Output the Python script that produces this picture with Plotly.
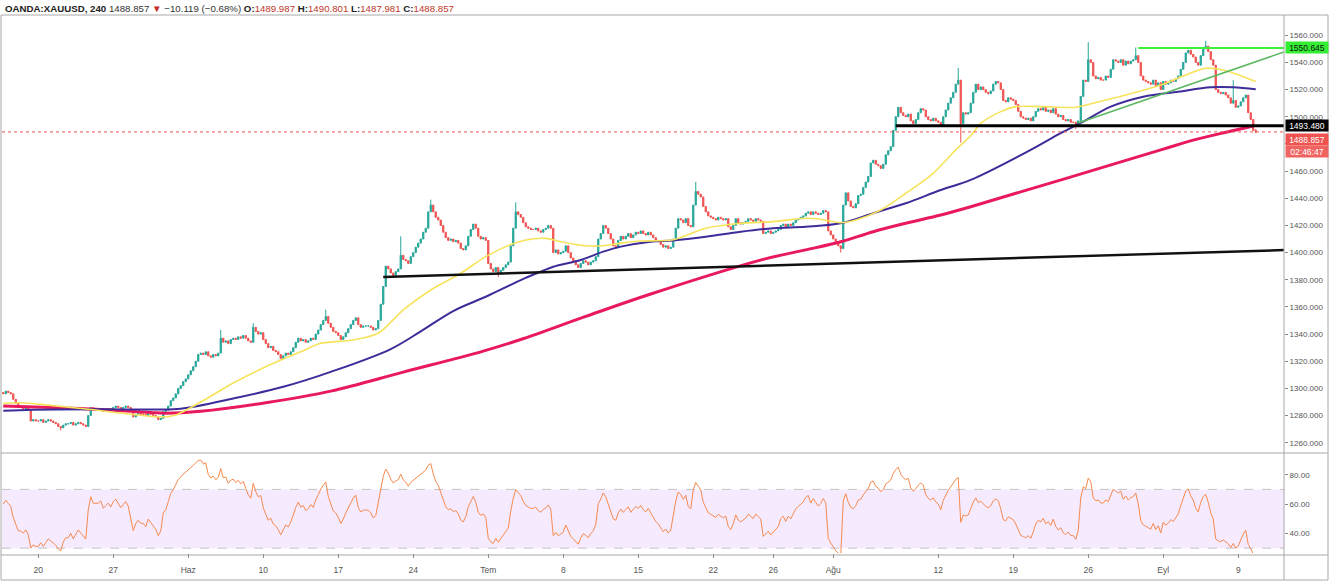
import numpy as np
import plotly.graph_objects as go
from plotly.subplots import make_subplots

# ---------------- DATA ----------------
# 4H closes, grouped per trading day (6 bars/day); first group = last 2 bars of May 15,
# last group = first 2 bars of Sep 10
daily_closes = [
    [1296, 1298],
    [1297, 1296, 1292, 1289, 1286, 1286],  # May 16
    [1285, 1286, 1284, 1276, 1277, 1276],  # May 17
    [1276, 1277, 1275, 1276, 1277, 1276],  # May 20
    [1275, 1274, 1272, 1271, 1273, 1274],
    [1274, 1275, 1273, 1274, 1275, 1274],
    [1273, 1272, 1280, 1286, 1284, 1284],
    [1284, 1285, 1283, 1284, 1285, 1284],
    [1286, 1287, 1286, 1285, 1286, 1287],  # May 27
    [1286, 1283, 1279, 1281, 1282, 1281],
    [1281, 1280, 1282, 1281, 1280, 1279],
    [1277, 1278, 1283, 1284, 1287, 1291],
    [1293, 1296, 1300, 1302, 1305, 1307],
    [1310, 1313, 1316, 1320, 1325, 1326],  # Jun 3
    [1325, 1327, 1324, 1323, 1325, 1324],
    [1326, 1337, 1334, 1335, 1333, 1336],
    [1337, 1336, 1338, 1337, 1339, 1337],
    [1335, 1334, 1345, 1342, 1340, 1341],
    [1336, 1333, 1330, 1331, 1328, 1327],  # Jun 10
    [1325, 1322, 1324, 1326, 1325, 1327],
    [1330, 1334, 1337, 1335, 1336, 1334],
    [1335, 1337, 1336, 1340, 1343, 1347],
    [1350, 1353, 1348, 1345, 1342, 1341],
    [1339, 1336, 1338, 1341, 1344, 1347],  # Jun 17
    [1350, 1352, 1347, 1345, 1346, 1346],
    [1346, 1345, 1343, 1344, 1350, 1362],
    [1375, 1390, 1388, 1385, 1383, 1386],
    [1388, 1398, 1395, 1394, 1392, 1397],
    [1400, 1404, 1407, 1410, 1415, 1418],  # Jun 24
    [1430, 1435, 1430, 1426, 1424, 1420],
    [1415, 1411, 1409, 1410, 1408, 1409],
    [1407, 1403, 1402, 1405, 1412, 1417],
    [1421, 1418, 1412, 1410, 1411, 1409],
    [1392, 1388, 1386, 1389, 1385, 1387],  # Jul 1
    [1389, 1391, 1393, 1405, 1418, 1430],
    [1428, 1426, 1422, 1419, 1418, 1417],
    [1417, 1418, 1416, 1415, 1417, 1418],
    [1420, 1418, 1400, 1402, 1399, 1400],
    [1401, 1405, 1400, 1396, 1394, 1391],  # Jul 8
    [1389, 1392, 1394, 1393, 1391, 1393],
    [1394, 1397, 1410, 1414, 1420, 1418],
    [1414, 1410, 1405, 1404, 1409, 1412],
    [1410, 1412, 1414, 1411, 1413, 1415],
    [1414, 1416, 1414, 1413, 1415, 1413],  # Jul 15
    [1411, 1409, 1408, 1406, 1404, 1405],
    [1403, 1404, 1410, 1418, 1425, 1424],
    [1422, 1425, 1420, 1419, 1435, 1445],
    [1443, 1441, 1434, 1430, 1427, 1426],
    [1425, 1424, 1426, 1425, 1424, 1425],  # Jul 22
    [1419, 1417, 1420, 1425, 1422, 1421],
    [1422, 1423, 1425, 1424, 1423, 1425],
    [1424, 1423, 1414, 1415, 1416, 1414],
    [1415, 1416, 1417, 1420, 1421, 1419],
    [1421, 1420, 1422, 1424, 1425, 1426],  # Jul 29
    [1427, 1429, 1430, 1428, 1430, 1429],
    [1428, 1429, 1431, 1430, 1416, 1413],
    [1410, 1407, 1405, 1403, 1435, 1444],
    [1438, 1434, 1433, 1436, 1442, 1443],
    [1448, 1452, 1456, 1466, 1468, 1465],  # Aug 5
    [1464, 1462, 1465, 1472, 1475, 1478],
    [1490, 1500, 1507, 1503, 1501, 1500],
    [1502, 1497, 1495, 1498, 1503, 1506],
    [1505, 1500, 1498, 1497, 1499, 1497],
    [1496, 1493, 1500, 1505, 1510, 1514],  # Aug 12
    [1518, 1524, 1527, 1495, 1503, 1502],
    [1503, 1510, 1518, 1524, 1520, 1522],
    [1520, 1518, 1517, 1519, 1524, 1526],
    [1525, 1520, 1512, 1511, 1514, 1513],
    [1512, 1509, 1504, 1500, 1499, 1498],  # Aug 19
    [1499, 1497, 1500, 1504, 1506, 1505],
    [1507, 1504, 1505, 1503, 1506, 1502],
    [1500, 1501, 1498, 1497, 1498, 1496],
    [1496, 1494, 1497, 1515, 1527, 1526],
    [1542, 1540, 1530, 1528, 1529, 1527],  # Aug 26
    [1527, 1530, 1529, 1535, 1542, 1541],
    [1540, 1542, 1538, 1541, 1539, 1541],
    [1542, 1545, 1540, 1530, 1527, 1526],
    [1525, 1524, 1527, 1523, 1525, 1520],
    [1526, 1524, 1525, 1527, 1526, 1528],  # Sep 2
    [1530, 1535, 1540, 1547, 1549, 1546],
    [1544, 1540, 1538, 1545, 1550, 1552],
    [1548, 1542, 1538, 1520, 1518, 1517],
    [1518, 1516, 1514, 1510, 1512, 1507],
    [1508, 1511, 1514, 1516, 1503, 1498],  # Sep 9
    [1489.987, 1488.857],                  # Sep 10
]
first_open = 1297.0
last_bar_high = 1490.801
last_bar_low = 1487.981

# notable wicks (bar index -> extreme)
high_wicks = {87: 1343, 100: 1348, 129: 1358, 159: 1412, 171: 1439, 205: 1437,
              277: 1452, 382: 1536, 434: 1555, 453: 1551, 481: 1556, 492: 1527}
low_wicks = {23: 1269, 198: 1382, 335: 1400, 383: 1481, 429: 1491}

# RSI state at the first bar (avg gain / avg loss)
rsi_seed_gain = 1.35
rsi_seed_loss = 0.90

# Moving averages (bar index, value)
ma50_x = [0, 7, 19, 35, 51, 63, 69, 79, 92, 105, 119, 127, 140, 150, 160, 171, 183, 193, 201,
          209, 217, 223, 233, 240, 247, 255, 268, 281, 295, 308, 321, 327, 335, 341, 351, 361,
          372, 381, 387, 391, 399, 405, 416, 429, 436, 449, 463, 473, 481, 488, 496, 501]
ma50_y = [1289, 1289.5, 1287.5, 1284.5, 1281, 1279, 1280.5, 1290, 1304, 1316, 1327, 1333.2,
          1335.7, 1340.6, 1357.8, 1372.5, 1384.8, 1397, 1404.4, 1409.3, 1410.5, 1408, 1405,
          1405, 1407, 1408.5, 1409.5, 1418, 1421.6, 1422.8, 1425.3, 1424.5, 1422, 1424,
          1431.4, 1443.7, 1458.4, 1475.6, 1486, 1495.2, 1503.8, 1507.5, 1507.5, 1507, 1510,
          1516, 1523.4, 1530.8, 1535.7, 1534.5, 1529.5, 1525.9]
ma100_x = [0, 12, 39, 59, 71, 92, 112, 131, 155, 167, 180, 193, 207, 215, 220, 231, 240, 247,
           259, 268, 281, 295, 308, 321, 335, 348, 361, 375, 387, 411, 423, 432, 443, 456,
           470, 483, 492, 501]
ma100_y = [1283.5, 1284.3, 1284.6, 1284.5, 1285, 1292.6, 1301.2, 1312.2, 1329.0, 1342,
           1357.0, 1367.5, 1379.8, 1386, 1389.6, 1394.6, 1400.7, 1404.4, 1408, 1409, 1411.7,
           1415.4, 1418, 1419.1, 1421.6, 1429, 1436.3, 1446.1, 1453.5, 1475.6, 1487.9,
           1496.4, 1507.5, 1514.8, 1518.5, 1521.7, 1521.7, 1520.3]
ma200_x = [0, 19, 39, 59, 65, 79, 105, 131, 160, 192, 207, 233, 259, 304, 321, 335, 348, 361,
           375, 387, 463, 476, 490, 500]
ma200_y = [1287, 1286, 1284.5, 1282.3, 1281.8, 1283.2, 1289.5, 1298.0, 1312, 1327.5, 1336,
           1353, 1369.5, 1395, 1402, 1408, 1415.4, 1421.6, 1427.7, 1433.8, 1475.6, 1482.8,
           1489, 1493.2]

# drawn levels / trend lines
support_trend_x = [152, 512.3]
support_trend_y = [1382.0, 1401.9]
rising_trend_x = [430, 512.3]
rising_trend_y = [1495.4, 1547.7]
level_black = 1493.480
level_black_start = 357
level_green = 1550.645
level_green_start = 454
last_price = 1488.857
countdown = "02:46:47"

tick_bars = [14, 44, 74, 104, 134, 164, 194, 224, 254, 284, 308, 332, 374, 404, 434, 464, 494]
tick_text = ["20", "27", "Haz", "10", "17", "24", "Tem", "8", "15", "22", "26", "Ağu",
             "12", "19", "26", "Eyl", "9"]
price_ticks = list(range(1260, 1561, 20))
hidden_price_ticks = [1480]   # covered by the price tags in the original
rsi_ticks = [40, 60, 80]

# ---------------- BUILD ----------------
close = np.array([v for d in daily_closes for v in d], dtype=float)
n = len(close)
idx = np.arange(n)
opn = np.concatenate([[first_open], close[:-1]])
high = np.maximum(opn, close)
low = np.minimum(opn, close)
for k, v in high_wicks.items():
    high[k] = max(high[k], v)
for k, v in low_wicks.items():
    low[k] = min(low[k], v)
high[-1] = last_bar_high
low[-1] = last_bar_low

# RSI(14), Wilder smoothing
period = 14
d = np.diff(close)
g = np.clip(d, 0, None)
ls = np.clip(-d, 0, None)
ag, al = rsi_seed_gain, rsi_seed_loss
rsi = np.empty(n)
rsi[0] = 100 - 100 / (1 + ag / al)
for i in range(1, n):
    ag = (ag * (period - 1) + g[i - 1]) / period
    al = (al * (period - 1) + ls[i - 1]) / period
    rsi[i] = 100 - 100 / (1 + ag / al) if al > 0 else 100

W, H = 1332, 583
ML, MR, MT, MB = 2, 48, 16, 30
PW, PH = W - ML - MR, H - MT - MB


def xp(p):
    return (p - ML) / PW


def yp(p):
    return (H - MB - p) / PH


GREEN = "#26a69a"
RED = "#ef5350"
FONT = "Liberation Sans, Arial"

fig = make_subplots(rows=2, cols=1, shared_xaxes=True, vertical_spacing=0.0)

fig.add_trace(go.Candlestick(
    x=idx, open=opn, high=high, low=low, close=close,
    increasing=dict(line=dict(color=GREEN, width=1), fillcolor=GREEN),
    decreasing=dict(line=dict(color=RED, width=1), fillcolor=RED),
    whiskerwidth=0, showlegend=False, hoverinfo="skip"), row=1, col=1)

fig.add_trace(go.Scatter(x=ma200_x, y=ma200_y, mode="lines", showlegend=False,
                         line=dict(color="#e8195c", width=3, shape="spline", smoothing=1.0)),
              row=1, col=1)
fig.add_trace(go.Scatter(x=ma100_x, y=ma100_y, mode="lines", showlegend=False,
                         line=dict(color="#3d2c99", width=2, shape="spline", smoothing=1.0)),
              row=1, col=1)
fig.add_trace(go.Scatter(x=ma50_x, y=ma50_y, mode="lines", showlegend=False,
                         line=dict(color="#f7e35a", width=1.6, shape="spline", smoothing=0.8)),
              row=1, col=1)

fig.add_trace(go.Scatter(x=idx, y=rsi, mode="lines", showlegend=False,
                         line=dict(color="#f58a4e", width=1)), row=2, col=1)

x_lo, x_hi = -0.5, 512.3
fig.update_xaxes(range=[x_lo, x_hi], showgrid=False, zeroline=False, showline=False,
                 rangeslider_visible=False)
fig.update_xaxes(showticklabels=False, ticks="", row=1, col=1)
fig.update_xaxes(tickvals=tick_bars, ticktext=tick_text, ticks="outside", ticklen=4,
                 tickcolor="#888", ticklabelstandoff=5,
                 tickfont=dict(size=8.5, color="#555", family=FONT), row=2, col=1)

fig.update_yaxes(side="right", range=[1253.2, 1574.2], tickvals=price_ticks,
                 ticktext=["" if v in hidden_price_ticks else f"{v:.3f}" for v in price_ticks],
                 showgrid=False, zeroline=False, ticks="outside", ticklen=3, tickcolor="#888",
                 tickfont=dict(size=8, color="#555", family=FONT),
                 domain=[yp(452), 1.0], row=1, col=1)
fig.update_yaxes(side="right", range=[26.7, 94.1], tickvals=rsi_ticks,
                 ticktext=[f"{v:.2f}" for v in rsi_ticks], showgrid=False, zeroline=False,
                 ticks="outside", ticklen=3, tickcolor="#888",
                 tickfont=dict(size=8, color="#555", family=FONT),
                 domain=[0.0, yp(454)], row=2, col=1)

shapes = []
# RSI band
shapes.append(dict(type="rect", xref="x2 domain", yref="y2", x0=0, x1=1, y0=30, y1=70,
                   fillcolor="rgba(153,21,255,0.09)", line=dict(width=0), layer="below"))
for lvl in (30, 70):
    shapes.append(dict(type="line", xref="x2 domain", yref="y2", x0=0, x1=1, y0=lvl, y1=lvl,
                       line=dict(color="#c3c3c3", width=1, dash="dash"), layer="below"))
# current price dotted line
shapes.append(dict(type="line", xref="x domain", yref="y", x0=0, x1=1, y0=last_price,
                   y1=last_price, line=dict(color=RED, width=1, dash="dot")))
# drawings
shapes.append(dict(type="line", xref="x", yref="y", x0=support_trend_x[0], x1=support_trend_x[1],
                   y0=support_trend_y[0], y1=support_trend_y[1],
                   line=dict(color="#111", width=2.5)))
shapes.append(dict(type="line", xref="x", yref="y", x0=level_black_start, x1=x_hi,
                   y0=level_black, y1=level_black, line=dict(color="#000", width=3)))
shapes.append(dict(type="line", xref="x", yref="y", x0=rising_trend_x[0], x1=rising_trend_x[1],
                   y0=rising_trend_y[0], y1=rising_trend_y[1],
                   line=dict(color="#5cb860", width=1.5)))
shapes.append(dict(type="line", xref="x", yref="y", x0=level_green_start, x1=x_hi,
                   y0=level_green, y1=level_green, line=dict(color="#3cf03c", width=2)))
# frame lines
frame = "#a8a8a8"
for py in (15, 453, 555, 580):
    shapes.append(dict(type="line", xref="paper", yref="paper", x0=xp(1), x1=xp(1328),
                       y0=yp(py), y1=yp(py), line=dict(color=frame, width=1)))
for px in (1, 1284, 1328):
    shapes.append(dict(type="line", xref="paper", yref="paper", x0=xp(px), x1=xp(px),
                       y0=yp(15), y1=yp(580), line=dict(color=frame, width=1)))

annotations = []


def tag(py, text, bg, fg):
    annotations.append(dict(xref="paper", yref="paper", x=xp(1285), y=yp(py), xanchor="left",
                            yanchor="middle", text=text, showarrow=False, bgcolor=bg,
                            font=dict(size=8.5, color=fg, family=FONT),
                            width=40, height=9, borderpad=1, align="center"))


def price_to_py(v):
    lo, hi = 1253.2, 1574.2
    top, bot = MT, 452
    return bot - (v - lo) / (hi - lo) * (bot - top)


tag(price_to_py(level_green), f"{level_green:.3f}", "#33ee33", "#111")
tag(price_to_py(level_black), f"{level_black:.3f}", "#000000", "#ffffff")
tag(139, f"{last_price:.3f}", RED, "#ffffff")
tag(151.5, countdown, "#ef6461", "#ffffff")

header = ("<b>OANDA:XAUUSD, 240</b> <span style='color:#333'>1488.857</span> "
          "<span style='color:#c62828'>▼</span> <span style='color:#333'>−10.119 (−0.68%)</span> "
          "<b>O:</b><span style='color:#c0392b'>1489.987</span> "
          "<b>H:</b><span style='color:#c0392b'>1490.801</span> "
          "<b>L:</b><span style='color:#c0392b'>1487.981</span> "
          "<b>C:</b><span style='color:#c0392b'>1488.857</span>")
annotations.append(dict(xref="paper", yref="paper", x=xp(3), y=yp(8), xanchor="left",
                        yanchor="middle", text=header, showarrow=False,
                        font=dict(size=9.7, color="#222", family=FONT)))

fig.update_layout(width=W, height=H, margin=dict(l=ML, r=MR, t=MT, b=MB),
                  paper_bgcolor="white", plot_bgcolor="white", shapes=shapes,
                  annotations=annotations, showlegend=False)

fig.write_html("out.html")
